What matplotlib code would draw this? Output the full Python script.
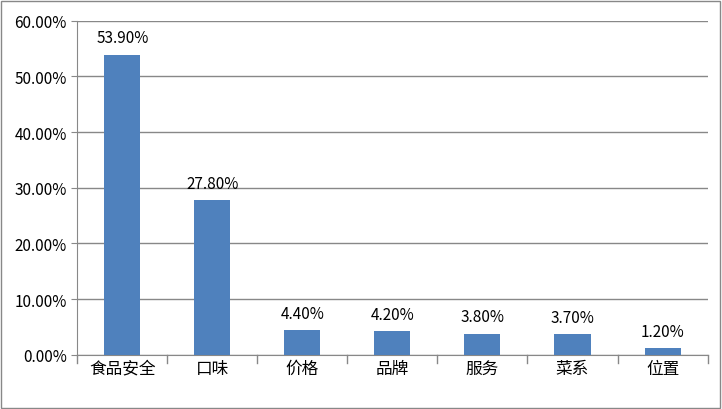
import matplotlib
matplotlib.use('Agg')
import matplotlib.pyplot as plt
from matplotlib.ticker import FuncFormatter, MultipleLocator

categories = ['食品安全', '口味', '价格', '品牌', '服务', '菜系', '位置']
values = [53.9, 27.8, 4.4, 4.2, 3.8, 3.7, 1.2]

plt.rcParams['font.family'] = ['Noto Sans CJK SC', 'DejaVu Sans']
fig = plt.figure(figsize=(7.22, 4.10), dpi=100)
fig.patch.set_facecolor('white')
ax = fig.add_axes([0.107, 0.132, 0.873, 0.815])
x = range(len(categories))
ax.bar(x, values, width=0.4, color='#4F81BD', zorder=3)
for i, v in zip(x, values):
    ax.text(i, v + 1.5, f'{v:.2f}%', ha='center', va='bottom', fontsize=11)
ax.set_ylim(0, 60)
ax.set_xlim(-0.5, len(categories) - 0.5)
ax.yaxis.set_major_locator(MultipleLocator(10))
ax.yaxis.set_major_formatter(FuncFormatter(lambda v, p: f'{v:.2f}%'))
ax.grid(axis='y', color='#888888', linewidth=1, zorder=0)
ax.set_xticks(x)
ax.set_xticklabels(categories, fontsize=12)
ax.tick_params(axis='y', labelsize=11, length=4, color='#888888')
ax.tick_params(axis='x', length=0)
for i in range(len(categories) + 1):
    ax.plot([i - 0.5, i - 0.5], [0, -1.5], color='#888888', lw=1, clip_on=False)
for s in ['top', 'right']:
    ax.spines[s].set_visible(False)
for s in ['left', 'bottom']:
    ax.spines[s].set_color('#888888')
fig.add_artist(plt.Rectangle((0.002, 0.003), 0.995, 0.993, fill=False, edgecolor='#888888', lw=1, transform=fig.transFigure))
fig.savefig('out.png', dpi=100)
